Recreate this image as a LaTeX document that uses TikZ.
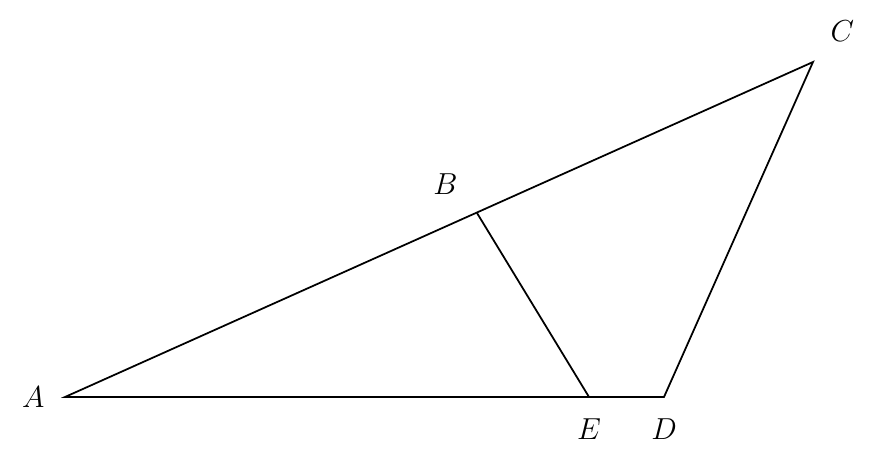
\documentclass[tikz,border=0pt]{standalone}
\usetikzlibrary{positioning}
\begin{document}
\begin{tikzpicture}[
    font=\LARGE,
    line width=1pt
  ]
\tikzstyle{pt}=[inner sep=0pt,minimum size=0pt];
\tikzstyle{lbl}=[inner sep=1pt];

\useasboundingbox (0,0) rectangle (17.58,9.26);

\node[pt] (A) at (1.30,1.32) {};
\node[pt] (C) at (16.26,8.02) {};
\node[pt] (D) at (13.28,1.32) {};
\node[pt] (E) at (11.78,1.32) {};
\node[pt] (B) at (9.54,5.00) {};

\node[lbl,left=.34 of A] (lA) {$A$};
\node[lbl,above left=.29 and .32 of B] (lB) {$B$};
\node[lbl,above right=.34 and .28 of C] (lC) {$C$};
\node[lbl,below=.36 of E] (lE) {$E$};
\node[lbl,below=.36 of D] (lD) {$D$};

\draw (A.center) -- (C.center) -- (D.center) -- cycle;
\draw (B.center) -- (E.center);

\end{tikzpicture}
\end{document}
